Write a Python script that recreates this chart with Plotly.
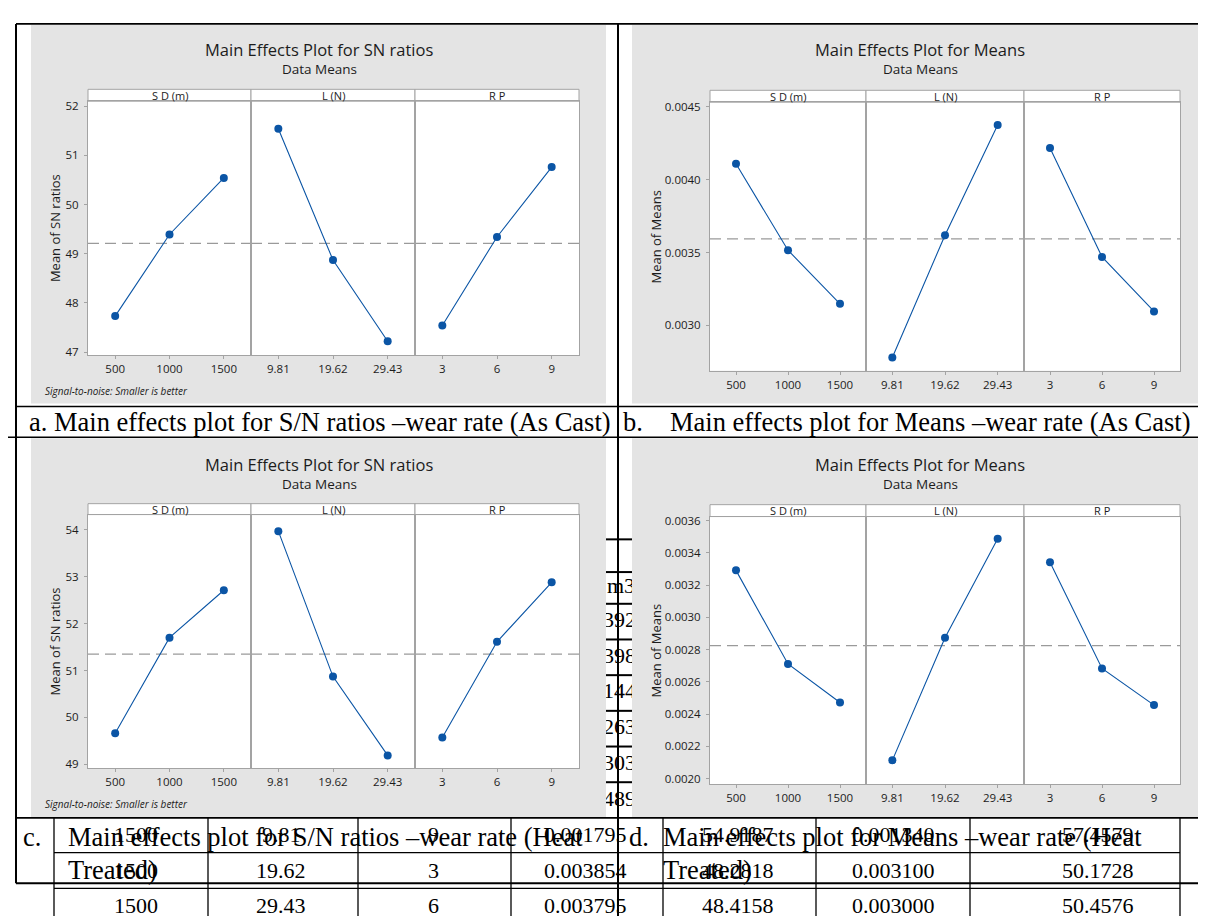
import plotly.graph_objects as go

W, H = 1206, 916

# ---------------- data ----------------
factor_names = ["S D (m)", "L (N)", "R P"]
sd_levels = ["500", "1000", "1500"]
load_levels = ["9.81", "19.62", "29.43"]
rp_levels = ["3", "6", "9"]

# (a) SN ratios, as cast
sn_cast_sd = [47.73, 49.39, 50.54]
sn_cast_load = [51.54, 48.87, 47.22]
sn_cast_rp = [47.54, 49.34, 50.76]
sn_cast_mean = 49.21
sn_cast_ticks = [47, 48, 49, 50, 51, 52]

# (b) Means, as cast
means_cast_sd = [0.004109, 0.003516, 0.003148]
means_cast_load = [0.002780, 0.003619, 0.004375]
means_cast_rp = [0.004217, 0.003470, 0.003096]
means_cast_mean = 0.003594
means_cast_ticks = [0.0030, 0.0035, 0.0040, 0.0045]

# (c) SN ratios, heat treated
sn_heat_sd = [49.66, 51.70, 52.71]
sn_heat_load = [53.97, 50.87, 49.19]
sn_heat_rp = [49.57, 51.61, 52.88]
sn_heat_mean = 51.35
sn_heat_ticks = [49, 50, 51, 52, 53, 54]

# (d) Means, heat treated
means_heat_sd = [0.003292, 0.002711, 0.002472]
means_heat_load = [0.002113, 0.002874, 0.003489]
means_heat_rp = [0.003343, 0.002683, 0.002456]
means_heat_mean = 0.002825
means_heat_ticks = [0.0020, 0.0022, 0.0024, 0.0026, 0.0028, 0.0030, 0.0032, 0.0034, 0.0036]

captions_top = ["a. Main effects plot for S/N ratios \u2013wear rate (As Cast)",
                "Main effects plot for Means \u2013wear rate (As Cast)"]
caption_c = ["Main effects plot for S/N ratios \u2013wear rate (Heat", "Treated)"]
caption_d = ["Main effects plot for Means \u2013wear rate (Heat", "Treated)"]

# stray table rows showing through underneath
table_row1 = ["1500", "9.81", "9", "0.001795", "54.9187", "0.001340", "57.4579"]
table_row2 = ["1500", "19.62", "3", "0.003854", "48.2818", "0.003100", "50.1728"]
table_row3 = ["1500", "29.43", "6", "0.003795", "48.4158", "0.003000", "50.4576"]
strip_fragments = ["m3", "392", "398", "144", "263", "303", "489"]

# ---------------- styling ----------------
GRAY_BG = "#e4e4e4"
FRAME = "#a3a3a3"
BLUE = "#0b55a5"
TXT = "#1c1c1c"
UI_FONT = "Open Sans, Noto Sans, sans-serif"
SERIF = "Liberation Serif, Times New Roman, serif"
CAP_SIZE = 26.5


def px(x):
    return x / W


def py(y):
    return 1 - y / H


levels = [sd_levels, load_levels, rp_levels]

panels = [
    dict(title="Main Effects Plot for SN ratios", ytitle="Mean of SN ratios",
         series=[sn_cast_sd, sn_cast_load, sn_cast_rp], mean=sn_cast_mean,
         ticks=sn_cast_ticks, fmt="d", note=True,
         xs=[80, 243, 407, 571], strip=(78, 90), bottom=346, yrange=[46.94, 52.10],
         gray=(23, 598, 13, 395), cx=311, ty=38, sy=58, ytx=47, note_y=382),
    dict(title="Main Effects Plot for Means", ytitle="Mean of Means",
         series=[means_cast_sd, means_cast_load, means_cast_rp], mean=means_cast_mean,
         ticks=means_cast_ticks, fmt=".4f", note=False,
         xs=[702, 858, 1016, 1172], strip=(79, 91), bottom=362, yrange=[0.002688, 0.004532],
         gray=(624, 1199, 13, 395), cx=912, ty=38, sy=58, ytx=648, note_y=None),
    dict(title="Main Effects Plot for SN ratios", ytitle="Mean of SN ratios",
         series=[sn_heat_sd, sn_heat_load, sn_heat_rp], mean=sn_heat_mean,
         ticks=sn_heat_ticks, fmt="d", note=True,
         xs=[80, 243, 407, 571], strip=(496, 507), bottom=763, yrange=[48.914, 54.323],
         gray=(23, 598, 430, 813), cx=311, ty=456, sy=476, ytx=47, note_y=799),
    dict(title="Main Effects Plot for Means", ytitle="Mean of Means",
         series=[means_heat_sd, means_heat_load, means_heat_rp], mean=means_heat_mean,
         ticks=means_heat_ticks, fmt=".4f", note=False,
         xs=[702, 858, 1016, 1172], strip=(497, 509), bottom=779, yrange=[0.001965, 0.003626],
         gray=(624, 1199, 430, 813), cx=912, ty=456, sy=476, ytx=648, note_y=None),
]

fig = go.Figure()
layout = dict(width=W, height=H, autosize=False, margin=dict(l=0, r=0, t=0, b=0),
              paper_bgcolor="white", plot_bgcolor="white", showlegend=False)
shapes = []
annotations = []

# gray backgrounds first, then white plot areas on top of them
for pn in panels:
    gx0, gx1, gy0, gy1 = pn["gray"]
    shapes.append(dict(type="rect", xref="paper", yref="paper", x0=px(gx0), x1=px(gx1),
                       y0=py(gy1), y1=py(gy0), fillcolor=GRAY_BG, line=dict(width=0), layer="below"))
for pn in panels:
    xs = pn["xs"]
    shapes.append(dict(type="rect", xref="paper", yref="paper", x0=px(xs[0]), x1=px(xs[3]),
                       y0=py(pn["bottom"]), y1=py(pn["strip"][0]), fillcolor="white",
                       line=dict(width=0), layer="below"))

for p, pn in enumerate(panels):
    s_top, s_bot = pn["strip"]
    xs = pn["xs"]
    annotations.append(dict(text=pn["title"], x=px(pn["cx"]), y=py(pn["ty"]), xref="paper", yref="paper",
                            showarrow=False, font=dict(family=UI_FONT, size=16.5, color=TXT),
                            xanchor="center", yanchor="middle"))
    annotations.append(dict(text="Data Means", x=px(pn["cx"]), y=py(pn["sy"]), xref="paper", yref="paper",
                            showarrow=False, font=dict(family=UI_FONT, size=13.5, color=TXT),
                            xanchor="center", yanchor="middle"))
    annotations.append(dict(text=pn["ytitle"], x=px(pn["ytx"]), y=py((s_bot + pn["bottom"]) / 2),
                            xref="paper", yref="paper", showarrow=False, textangle=-90,
                            font=dict(family=UI_FONT, size=13, color=TXT),
                            xanchor="center", yanchor="middle"))
    if pn["note"]:
        annotations.append(dict(text="<i>Signal-to-noise: Smaller is better</i>", x=px(35), y=py(pn["note_y"]),
                                xref="paper", yref="paper", showarrow=False,
                                font=dict(family=UI_FONT, size=10, color=TXT),
                                xanchor="left", yanchor="middle"))
    for f in range(3):
        k = p * 3 + f + 1
        sfx = "" if k == 1 else str(k)
        shapes.append(dict(type="rect", xref="paper", yref="paper", x0=px(xs[f]), x1=px(xs[f + 1]),
                           y0=py(s_bot), y1=py(s_top), fillcolor="white",
                           line=dict(color=FRAME, width=1), layer="below"))
        annotations.append(dict(text=factor_names[f], x=px((xs[f] + xs[f + 1]) / 2), y=py((s_top + s_bot) / 2),
                                xref="paper", yref="paper", showarrow=False,
                                font=dict(family=UI_FONT, size=11, color=TXT),
                                xanchor="center", yanchor="middle"))
        layout["xaxis" + sfx] = dict(
            domain=[px(xs[f]), px(xs[f + 1])], anchor="y" + sfx, type="category",
            range=[-0.5, 2.5], showline=True, mirror=True, linecolor=FRAME, linewidth=1,
            ticks="outside", ticklen=3, tickcolor=FRAME, showgrid=False, zeroline=False,
            tickfont=dict(family=UI_FONT, size=11.5, color=TXT), fixedrange=True)
        ya = dict(domain=[py(pn["bottom"]), py(s_bot)], anchor="x" + sfx, range=pn["yrange"],
                  showline=True, mirror=True, linecolor=FRAME, linewidth=1, showgrid=False,
                  zeroline=False, fixedrange=True)
        if f == 0:
            ya.update(tickmode="array", tickvals=pn["ticks"], tickformat=pn["fmt"], ticks="outside",
                      ticklen=3, tickcolor=FRAME, ticklabelstandoff=3,
                      tickfont=dict(family=UI_FONT, size=11.5, color=TXT))
        else:
            ya.update(showticklabels=False, ticks="")
        layout["yaxis" + sfx] = ya
        shapes.append(dict(type="line", xref="x" + sfx + " domain", yref="y" + sfx, x0=0, x1=1,
                           y0=pn["mean"], y1=pn["mean"],
                           line=dict(color="#9a9a9a", width=1.3, dash="11px,6px"), layer="below"))
        fig.add_trace(go.Scatter(x=levels[f], y=pn["series"][f], mode="lines+markers",
                                 line=dict(color=BLUE, width=1.1),
                                 marker=dict(color=BLUE, size=8, symbol="circle"),
                                 xaxis="x" + sfx, yaxis="y" + sfx, hoverinfo="skip"))

# ---- clipped table fragments in the gap between panels c and d ----
layout["xaxis13"] = dict(domain=[px(598), px(624)], anchor="y13", range=[598, 624], visible=False,
                         fixedrange=True)
layout["yaxis13"] = dict(domain=[py(813), py(500)], anchor="x13", range=[813, 500], visible=False,
                         fixedrange=True)
frag_y = [581, 615, 651, 687, 723, 759, 795]
frag_x = [599, 595, 595, 595, 595, 595, 595]
fig.add_trace(go.Scatter(x=frag_x, y=frag_y, text=strip_fragments, mode="text",
                         textposition="middle right", cliponaxis=True,
                         textfont=dict(family=SERIF, size=22, color="black"),
                         xaxis="x13", yaxis="y13", hoverinfo="skip"))
for yy in [532, 565, 597, 633, 669, 705, 741, 777]:
    shapes.append(dict(type="line", xref="paper", yref="paper", x0=px(598), x1=px(624),
                       y0=py(yy), y1=py(yy), line=dict(color="black", width=2)))


# ---- document table lines ----
def hline(y, x0, x1, w=1.6):
    shapes.append(dict(type="line", xref="paper", yref="paper", x0=px(x0), x1=px(x1),
                       y0=py(y), y1=py(y), line=dict(color="black", width=w)))


def vline(x, y0, y1, w=2):
    shapes.append(dict(type="line", xref="paper", yref="paper", x0=px(x), x1=px(x),
                       y0=py(y0), y1=py(y1), line=dict(color="black", width=w)))


hline(12, 8, 1206)
hline(398, 8, 1200)
hline(429, 0, 1206)
hline(813, 8, 1206)
hline(848, 46, 1172, 1.3)
hline(879, 8, 1206, 2)
hline(884, 46, 1172, 1.3)
vline(8, 12, 879)
vline(610, 12, 916)
table_seps = [46, 200, 350, 503, 655, 808, 962, 1172]
for xx in table_seps:
    vline(xx, 813, 916, 1.3)


# ---- captions ----
def cap(text, x, y):
    annotations.append(dict(text=text, x=px(x), y=py(y), xref="paper", yref="paper",
                            showarrow=False, xanchor="left", yanchor="middle",
                            font=dict(family=SERIF, size=CAP_SIZE, color="black")))


cap(captions_top[0], 19, 414)
cap("b.", 613, 414)
cap(captions_top[1], 660, 414)
cap("c.", 13, 832)
cap("d.", 619, 832)
for i, line_txt in enumerate(caption_c):
    cap(line_txt, 58, 832 + 34 * i)
for i, line_txt in enumerate(caption_d):
    cap(line_txt, 653, 832 + 34 * i)

col_x = [128, 273, 425, 577, 730, 885, 1090]
for row, yy in [(table_row1, 830), (table_row2, 866), (table_row3, 901)]:
    for j, val in enumerate(row):
        annotations.append(dict(text=val, x=px(col_x[j]), y=py(yy), xref="paper", yref="paper",
                                showarrow=False, xanchor="center", yanchor="middle",
                                font=dict(family=SERIF, size=22, color="black")))

layout["shapes"] = shapes
layout["annotations"] = annotations
fig.update_layout(**layout)
fig.write_html("out.html")
